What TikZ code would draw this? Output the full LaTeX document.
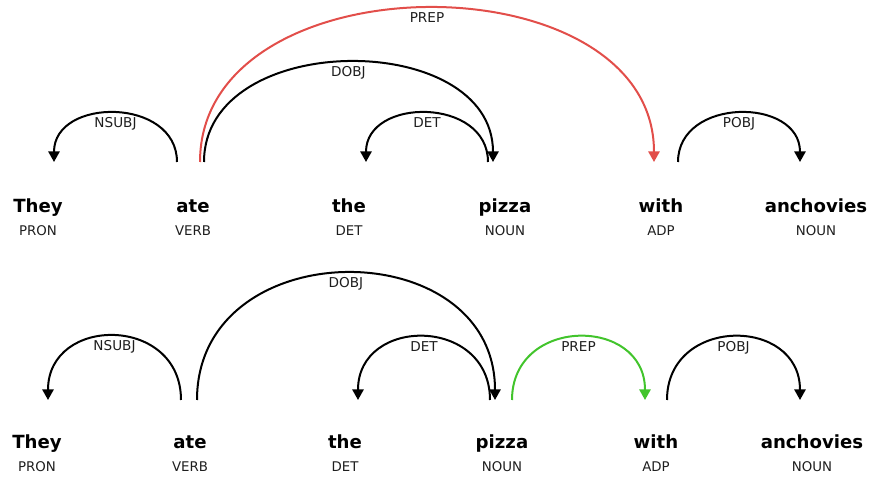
\documentclass[tikz,border=0pt]{standalone}
\usepackage{fontspec}
\setmainfont{DejaVu Sans}
\usetikzlibrary{arrows.meta}
\definecolor{arcred}{RGB}{226,78,74}
\definecolor{arcgreen}{RGB}{66,196,44}
\definecolor{tagcol}{RGB}{30,30,30}
\tikzset{
  word/.style={font=\bfseries\fontsize{13.6}{16}\selectfont, inner sep=0pt, anchor=base},
  tag/.style={font=\fontsize{10}{11}\selectfont, text=tagcol, inner sep=0pt, anchor=base},
  lbl/.style={font=\fontsize{10.2}{11}\selectfont, text=tagcol, inner sep=0pt, anchor=base, yshift=-11pt},
  dep/.style={line width=1.5pt, -{Triangle[width=8.5pt,length=8pt]}},
}
\begin{document}
\begin{tikzpicture}[x=0.75pt,y=-0.75pt]
\useasboundingbox (0,0) rectangle (869,477);
% ---- top row ----
\node[word] (t1) at (38,213) {They};
\node[word] (t2) at (193,213) {ate};
\node[word] (t3) at (349,213) {the};
\node[word] (t4) at (505,213) {pizza};
\node[word] (t5) at (661,213) {with};
\node[word] (t6) at (816,213) {anchovies};
\node[tag] (tt1) at (38,236) {PRON};
\node[tag] (tt2) at (193,236) {VERB};
\node[tag] (tt3) at (349,236) {DET};
\node[tag] (tt4) at (505,236) {NOUN};
\node[tag] (tt5) at (661,236) {ADP};
\node[tag] (tt6) at (816,236) {NOUN};
\coordinate (ta1) at (177,162); \coordinate (te1) at (54,162);
\coordinate (ta2) at (204,162); \coordinate (te2) at (493,162);
\coordinate (ta3) at (200,162); \coordinate (te3) at (654,162);
\coordinate (ta4) at (488,162); \coordinate (te4) at (366,162);
\coordinate (ta5) at (678,162); \coordinate (te5) at (800,162);
\draw[dep] (ta1) .. controls +(0,-65) and +(0,-65) .. node[lbl,pos=0.5] {NSUBJ} (te1);
\draw[dep] (ta2) .. controls +(0,-133) and +(0,-133) .. node[lbl,pos=0.5] {DOBJ} (te2);
\draw[dep,arcred] (ta3) .. controls +(0,-205) and +(0,-205) .. node[lbl,pos=0.5] {PREP} (te3);
\draw[dep] (ta4) .. controls +(0,-65) and +(0,-65) .. node[lbl,pos=0.5] {DET} (te4);
\draw[dep] (ta5) .. controls +(0,-65) and +(0,-65) .. node[lbl,pos=0.5] {POBJ} (te5);
% ---- bottom row ----
\node[word] (b1) at (37,449) {They};
\node[word] (b2) at (190,449) {ate};
\node[word] (b3) at (345,449) {the};
\node[word] (b4) at (502,449) {pizza};
\node[word] (b5) at (656,449) {with};
\node[word] (b6) at (812,449) {anchovies};
\node[tag] (bt1) at (37,472) {PRON};
\node[tag] (bt2) at (190,472) {VERB};
\node[tag] (bt3) at (345,472) {DET};
\node[tag] (bt4) at (502,472) {NOUN};
\node[tag] (bt5) at (656,472) {ADP};
\node[tag] (bt6) at (812,472) {NOUN};
\coordinate (ba1) at (181,400); \coordinate (be1) at (48,400);
\coordinate (ba2) at (197,400); \coordinate (be2) at (495,400);
\coordinate (ba3) at (490,400); \coordinate (be3) at (358,400);
\coordinate (ba4) at (512,400); \coordinate (be4) at (645,400);
\coordinate (ba5) at (667,400); \coordinate (be5) at (800,400);
\draw[dep] (ba1) .. controls +(0,-85) and +(0,-85) .. node[lbl,pos=0.5] {NSUBJ} (be1);
\draw[dep] (ba2) .. controls +(0,-169) and +(0,-169) .. node[lbl,pos=0.5] {DOBJ} (be2);
\draw[dep] (ba3) .. controls +(0,-84) and +(0,-84) .. node[lbl,pos=0.5] {DET} (be3);
\draw[dep,arcgreen] (ba4) .. controls +(0,-84) and +(0,-84) .. node[lbl,pos=0.5] {PREP} (be4);
\draw[dep] (ba5) .. controls +(0,-84) and +(0,-84) .. node[lbl,pos=0.5] {POBJ} (be5);
\end{tikzpicture}
\end{document}
